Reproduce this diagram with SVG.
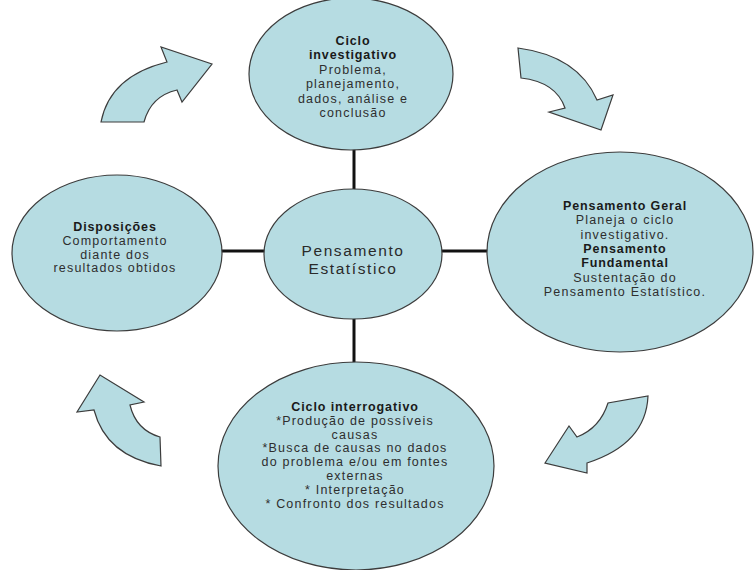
<svg xmlns="http://www.w3.org/2000/svg" width="755" height="570" viewBox="0 0 755 570">
<style>
.node{fill:#b6dce2;stroke:#3c3c3c;stroke-width:1.2}
.arrow{fill:#b6dce2;stroke:#3c3c3c;stroke-width:1.2;stroke-linejoin:miter}
.link{stroke:#111;stroke-width:3;fill:none}
text{font-family:"Liberation Sans",Arial,sans-serif;font-size:12.5px;fill:#2e2e2e;text-anchor:middle;letter-spacing:1.2px}
.b{font-weight:bold;fill:#1a1a1a;letter-spacing:0.9px}
.c{font-size:15.5px;letter-spacing:1.6px;fill:#2a2a2a}
</style>
<rect width="755" height="570" fill="#ffffff"/>
<g id="connectors">
<line class="link" x1="354" y1="148" x2="354" y2="190"/>
<line class="link" x1="221" y1="251" x2="265" y2="251"/>
<line class="link" x1="441" y1="251" x2="488" y2="251"/>
<line class="link" x1="354" y1="318" x2="354" y2="364"/>
<g id="cycle-arrows">
<path class="arrow" d="M101,122 Q110,76 167,62 L161,47 L212,64 L182,102 L177,90 Q151,96 144,122 Z"/>
<path class="arrow" d="M518,48 Q578,56 597,100 L613,95 L601,130 L549,112 L565,108 Q556,82 521,78 Z"/>
<path class="arrow" d="M648,396 Q646,444 587,463 L587,473 L545,463 L569,426 L577,437 Q600,428 608,403 Z"/>
<path class="arrow" d="M161,466 Q106,456 94,410 L77,412 L100,375 L144,402 L130,405 Q136,430 160,437 Z"/>
</g>
</g>
<g id="node-investigativo">
<ellipse class="node" cx="351" cy="74" rx="102" ry="76"/>
<text x="353" y="45" class="b">Ciclo</text>
<text x="353" y="59.4" class="b">investigativo</text>
<text x="353" y="73.8">Problema,</text>
<text x="353" y="88.2">planejamento,</text>
<text x="353" y="102.6">dados, análise e</text>
<text x="353" y="117">conclusão</text>
</g>
<g id="node-central">
<ellipse class="node" cx="353" cy="254" rx="89" ry="65"/>
<text x="353" y="255.5" class="c">Pensamento</text>
<text x="353" y="273.5" class="c">Estatístico</text>
</g>
<g id="node-disposicoes">
<ellipse class="node" cx="117" cy="253" rx="105" ry="78"/>
<text x="115" y="231" class="b">Disposições</text>
<text x="115" y="244.8">Comportamento</text>
<text x="115" y="258.6">diante dos</text>
<text x="115" y="272.4">resultados obtidos</text>
</g>
<g id="node-pensamento-geral">
<ellipse class="node" cx="620" cy="252" rx="133" ry="100"/>
<text x="625" y="210" class="b">Pensamento Geral</text>
<text x="625" y="224.3">Planeja o ciclo</text>
<text x="625" y="238.6">investigativo.</text>
<text x="625" y="252.9" class="b">Pensamento</text>
<text x="625" y="267.2" class="b">Fundamental</text>
<text x="625" y="281.5">Sustentação do</text>
<text x="625" y="295.8">Pensamento Estatístico.</text>
</g>
<g id="node-interrogativo">
<ellipse class="node" cx="356" cy="466" rx="138" ry="104"/>
<text x="355" y="411" class="b">Ciclo interrogativo</text>
<text x="355" y="424.8">*Produção de possíveis</text>
<text x="355" y="438.6">causas</text>
<text x="355" y="452.4">*Busca de causas no dados</text>
<text x="355" y="466.2">do problema e/ou em fontes</text>
<text x="355" y="480">externas</text>
<text x="355" y="493.8">* Interpretação</text>
<text x="355" y="507.6">* Confronto dos resultados</text>
</g>
</svg>
